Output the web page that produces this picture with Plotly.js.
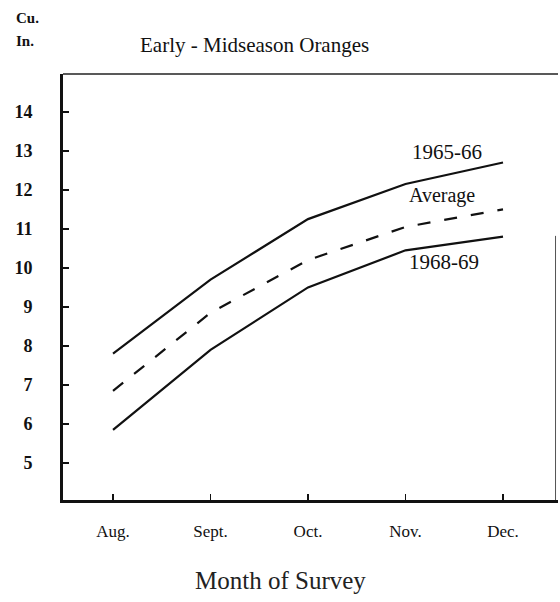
<!DOCTYPE html>
<html><head><meta charset="utf-8">
<script src="https://cdn.plot.ly/plotly-3.0.1.min.js"></script>
<style>html,body{margin:0;padding:0;background:#fff}#chart{width:560px;height:602px}</style>
</head><body><div id="chart"></div>
<script>
const months = ['Aug.','Sept.','Oct.','Nov.','Dec.'];
const yr6566 = [7.8, 9.7, 11.25, 12.15, 12.7];
const average = [6.85, 8.85, 10.2, 11.05, 11.5];
const yr6869 = [5.85, 7.9, 9.5, 10.45, 10.8];
const yTicks = [5,6,7,8,9,10,11,12,13,14];
const yTickText = ['5','6','7','8','9','10','11','12','13','14'];
const seriesLabels = ['1965-66','Average','1968-69'];

const serif = 'Liberation Serif, Times New Roman, serif';
const idx = months.map((m,i)=>i);

const traces = [
  {x: idx, y: yr6566, mode:'lines', line:{color:'#111', width:2.2}, hoverinfo:'skip'},
  {x: idx, y: average, mode:'lines', line:{color:'#111', width:2.2, dash:'13px,14px'}, hoverinfo:'skip'},
  {x: idx, y: yr6869, mode:'lines', line:{color:'#111', width:2.2}, hoverinfo:'skip'}
];

const layout = {
  width:560, height:602,
  margin:{l:63, r:2, t:74, b:102},
  paper_bgcolor:'#fff', plot_bgcolor:'#fff',
  showlegend:false,
  font:{family:serif, color:'#111'},
  xaxis:{
    range:[-0.513, 4.564], tickvals: idx, ticktext: months,
    showgrid:false, zeroline:false,
    showline:true, linecolor:'#111', linewidth:2.5,
    ticks:'inside', ticklen:6, tickwidth:1.5, tickcolor:'#111',
    ticklabelstandoff:14,
    tickfont:{family:serif, size:17, color:'#111'}
  },
  yaxis:{
    range:[4.05, 14.97], tickvals: yTicks, ticktext: yTickText,
    showgrid:false, zeroline:false,
    showline:true, linecolor:'#111', linewidth:3,
    ticks:'inside', ticklen:6, tickwidth:1.5, tickcolor:'#111',
    ticklabelstandoff:24,
    tickfont:{family:serif, size:18, color:'#111', weight:'bold'}
  },
  shapes:[
    {type:'line', xref:'paper', yref:'paper', x0:0, x1:1, y0:1, y1:1, line:{color:'#222', width:1.6}},
    {type:'line', xref:'paper', yref:'paper', x0:0.995, x1:0.995, y0:0, y1:0.62, line:{color:'#555', width:1}}
  ],
  annotations:[
    {text:'Early - Midseason Oranges', xref:'paper', yref:'paper', x:(254-63)/495, y:1+(74-45)/426, showarrow:false, xanchor:'center', yanchor:'middle', font:{family:serif, size:21, color:'#111'}},
    {text:'Cu.', xref:'paper', yref:'paper', x:(14-63)/495, y:1+(74-18)/426, showarrow:false, xanchor:'left', yanchor:'middle', font:{family:serif, size:15, color:'#111', weight:'bold'}},
    {text:'In.', xref:'paper', yref:'paper', x:(14-63)/495, y:1+(74-41)/426, showarrow:false, xanchor:'left', yanchor:'middle', font:{family:serif, size:15, color:'#111', weight:'bold'}},
    {text:'Month of Survey', xref:'paper', yref:'paper', x:(280-63)/495, y:-(580-500)/426, showarrow:false, xanchor:'center', yanchor:'middle', font:{family:serif, size:25, color:'#222'}},
    {text:seriesLabels[0], x:3.43, y:12.97, showarrow:false, xanchor:'center', yanchor:'middle', font:{family:serif, size:21, color:'#111'}},
    {text:seriesLabels[1], x:3.37, y:11.85, showarrow:false, xanchor:'center', yanchor:'middle', font:{family:serif, size:20, color:'#111'}},
    {text:seriesLabels[2], x:3.39, y:10.15, showarrow:false, xanchor:'center', yanchor:'middle', font:{family:serif, size:21, color:'#111'}}
  ]
};
Plotly.newPlot('chart', traces, layout, {displayModeBar:false, staticPlot:true});
</script></body></html>
